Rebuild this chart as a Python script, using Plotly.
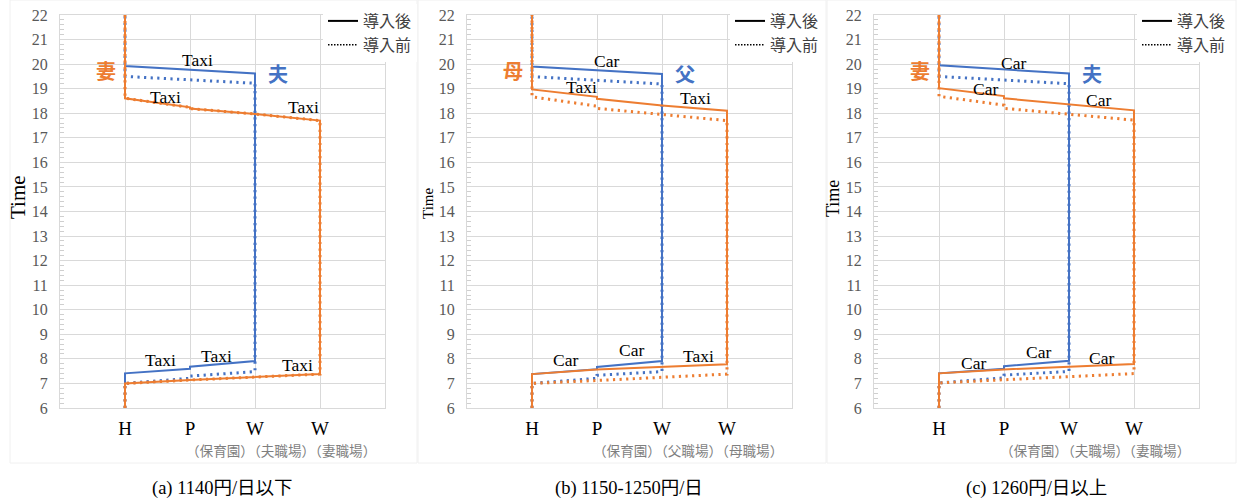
import plotly.graph_objects as go

# ---------------- data ----------------
stops = ["H", "P", "W", "W"]
husband_route = [0, 0, 1, 1, 2, 2, 0, 0]          # location index along the path
wife_route = [0, 0, 1, 2, 3, 3, 2, 1, 1, 0, 0]

# (a) 1140円/日以下
a_husband_after = [6, 7.41, 7.60, 7.68, 7.91, 19.62, 19.92, 22]
a_husband_before = [6, 7.00, 7.21, 7.30, 7.48, 19.22, 19.50, 22]
a_wife_after = [6, 7.00, 7.14, 7.27, 7.38, 17.70, 17.97, 18.19, 18.24, 18.61, 22]
a_wife_before = [6, 7.00, 7.14, 7.27, 7.38, 17.70, 17.97, 18.19, 18.24, 18.61, 22]

# (b) 1150-1250円/日
b_husband_after = [6, 7.38, 7.58, 7.67, 7.91, 19.60, 19.90, 22]
b_husband_before = [6, 7.00, 7.21, 7.33, 7.48, 19.19, 19.49, 22]
b_wife_after = [6, 7.38, 7.57, 7.66, 7.78, 18.10, 18.32, 18.59, 18.67, 18.97, 22]
b_wife_before = [6, 7.00, 7.12, 7.26, 7.38, 17.70, 17.96, 18.20, 18.29, 18.67, 22]

# (c) 1260円/日以上
c_husband_after = [6, 7.41, 7.60, 7.70, 7.92, 19.62, 19.95, 22]
c_husband_before = [6, 7.02, 7.23, 7.34, 7.49, 19.20, 19.50, 22]
c_wife_after = [6, 7.41, 7.57, 7.68, 7.79, 18.12, 18.37, 18.61, 18.70, 19.02, 22]
c_wife_before = [6, 7.02, 7.15, 7.28, 7.40, 17.72, 17.96, 18.20, 18.33, 18.69, 22]

a_modes = ["Taxi", "Taxi", "Taxi", "Taxi", "Taxi", "Taxi"]
b_modes = ["Car", "Taxi", "Taxi", "Car", "Car", "Taxi"]
c_modes = ["Car", "Car", "Car", "Car", "Car", "Car"]

a_people = ["妻", "夫"]
b_people = ["母", "父"]
c_people = ["妻", "夫"]

a_places = "（保育園）（夫職場）（妻職場）"
b_places = "（保育園）（父職場）（母職場）"
c_places = "（保育園）（夫職場）（妻職場）"

captions = ["(a) 1140円/日以下", "(b) 1150-1250円/日", "(c) 1260円/日以上"]
legend_names = ["導入後", "導入前"]

# ---------------- style ----------------
W, H = 1237, 500
BLUE = "#4472C4"
ORANGE = "#ED7D31"
GRID = "#d9d9d9"
SERIF = "Liberation Serif, Times New Roman, serif"
CJK = "Noto Sans CJK JP"
MIX = "Liberation Serif, Noto Sans CJK JP"


def px(x):
    return x / W


def py(y):
    return 1 - y / H


plot_left = [60, 467, 874]
plot_w = 325
plot_top, plot_bot = 15, 408
time_title = [(18, 197, 21), (428, 204, 15), (833, 199, 18)]
mode_pos = [
    [(1.12, 20.17), (0.63, 18.67), (2.74, 18.27), (0.54, 7.95), (1.41, 8.12), (2.66, 7.75)],
    [(1.14, 20.14), (0.76, 19.06), (2.51, 18.61), (0.51, 7.95), (1.53, 8.36), (2.56, 8.12)],
    [(1.14, 20.06), (0.71, 19.00), (2.45, 18.54), (0.53, 7.83), (1.53, 8.26), (2.50, 8.03)],
]
people_pos = [(-0.29, 19.73), (2.35, 19.62)]

panels = [
    (a_husband_after, a_husband_before, a_wife_after, a_wife_before, a_modes, a_people, a_places),
    (b_husband_after, b_husband_before, b_wife_after, b_wife_before, b_modes, b_people, b_places),
    (c_husband_after, c_husband_before, c_wife_after, c_wife_before, c_modes, c_people, c_places),
]

fig = go.Figure()
annotations = []
shapes = []
DOT = "2.2px,4.4px"

for i, (ha, hb, wa, wb, modes, people, places) in enumerate(panels):
    sfx = "" if i == 0 else str(i + 1)
    xa, ya = "x" + sfx, "y" + sfx
    leg = "legend" + sfx
    common = dict(xaxis=xa, yaxis=ya, mode="lines", showlegend=False, hoverinfo="skip")
    fig.add_trace(go.Scatter(x=husband_route, y=ha, line=dict(color=BLUE, width=2), **common))
    fig.add_trace(go.Scatter(x=husband_route, y=hb, line=dict(color=BLUE, width=3, dash=DOT), **common))
    fig.add_trace(go.Scatter(x=wife_route, y=wa, line=dict(color=ORANGE, width=2), **common))
    fig.add_trace(go.Scatter(x=wife_route, y=wb, line=dict(color=ORANGE, width=3, dash=DOT), **common))
    # legend entries
    fig.add_trace(go.Scatter(x=[None], y=[None], xaxis=xa, yaxis=ya, mode="lines", name=legend_names[0],
                             line=dict(color="black", width=2), legend=leg))
    fig.add_trace(go.Scatter(x=[None], y=[None], xaxis=xa, yaxis=ya, mode="lines", name=legend_names[1],
                             line=dict(color="black", width=1.5, dash="1.5px,1.5px"), legend=leg))

    x0 = plot_left[i]
    fig.layout["xaxis" + sfx] = dict(
        domain=[px(x0), px(x0 + plot_w)], range=[-1, 4], tickvals=[0, 1, 2, 3], ticktext=stops,
        showgrid=True, gridcolor=GRID, gridwidth=1, zeroline=False, showline=True, mirror=True,
        linecolor=GRID, linewidth=1, ticks="", tickfont=dict(family=SERIF, size=19, color="black"),
        ticklabelstandoff=3, anchor=ya, fixedrange=True, automargin=False,
    )
    fig.layout["yaxis" + sfx] = dict(
        domain=[py(plot_bot), py(plot_top)], range=[6, 22], tick0=6, dtick=1,
        showgrid=True, gridcolor=GRID, gridwidth=1, zeroline=False, showline=True, mirror=True,
        linecolor=GRID, linewidth=1, ticks="", tickfont=dict(family=SERIF, size=16, color="#595959"),
        ticklabelstandoff=8, anchor=xa, fixedrange=True, automargin=False,
        minor=dict(dtick=0.2, ticks="inside", ticklen=4, tickcolor="#cfcfcf", tickwidth=1, showgrid=False),
    )
    fig.layout[leg] = dict(
        x=px(x0 + plot_w - 62), y=py(4), xanchor="left", yanchor="top", bgcolor="white",
        font=dict(family=CJK, size=16, color="#404040"), tracegroupgap=0, itemwidth=30,
        borderwidth=0, orientation="v",
    )

    # "Time" title
    tx, ty, ts = time_title[i]
    annotations.append(dict(text="Time", x=px(tx), y=py(ty), xref="paper", yref="paper", showarrow=False,
                            xanchor="center", yanchor="middle",
                            textangle=-90, font=dict(family=SERIF, size=ts, color="black")))
    # mode labels
    for m, (mx, my) in zip(modes, mode_pos[i]):
        annotations.append(dict(text=m, x=mx, y=my, xref=xa, yref=ya, showarrow=False,
                                xanchor="center", yanchor="middle",
                                font=dict(family=SERIF, size=17.5, color="black")))
    # people labels
    for p, (ppx, ppy), col in zip(people, people_pos, [ORANGE, BLUE]):
        annotations.append(dict(text="<b>" + p + "</b>", x=ppx, y=ppy, xref=xa, yref=ya, showarrow=False,
                                xanchor="center", yanchor="middle",
                                font=dict(family=CJK, size=20, color=col)))
    # place descriptions
    annotations.append(dict(text=places, x=0.9, y=py(450), xref=xa, yref="paper", xanchor="left",
                            yanchor="middle",
                            showarrow=False, font=dict(family=CJK, size=13.6, color="#7f7f7f")))
    # caption
    annotations.append(dict(text=captions[i], x=px(x0 + 162), y=py(488), xref="paper", yref="paper",
                            xanchor="center", yanchor="middle",
                            showarrow=False, font=dict(family=MIX, size=18.5, color="black")))

frames = [(10, 417), (418, 826), (827, 1236)]
for fx0, fx1 in frames:
    shapes.append(dict(type="rect", xref="paper", yref="paper", x0=px(fx0), x1=px(fx1), y0=py(463), y1=py(0),
                       line=dict(color="#f0f0f0", width=1), layer="below"))

fig.update_layout(
    width=W, height=H, margin=dict(l=0, r=0, t=0, b=0, pad=0, autoexpand=False),
    paper_bgcolor="white", plot_bgcolor="white",
    annotations=annotations, shapes=shapes,
)

fig.write_html("out.html", config={"displayModeBar": False},
               post_script="document.body.style.margin='0px';document.body.style.overflow='hidden';")
